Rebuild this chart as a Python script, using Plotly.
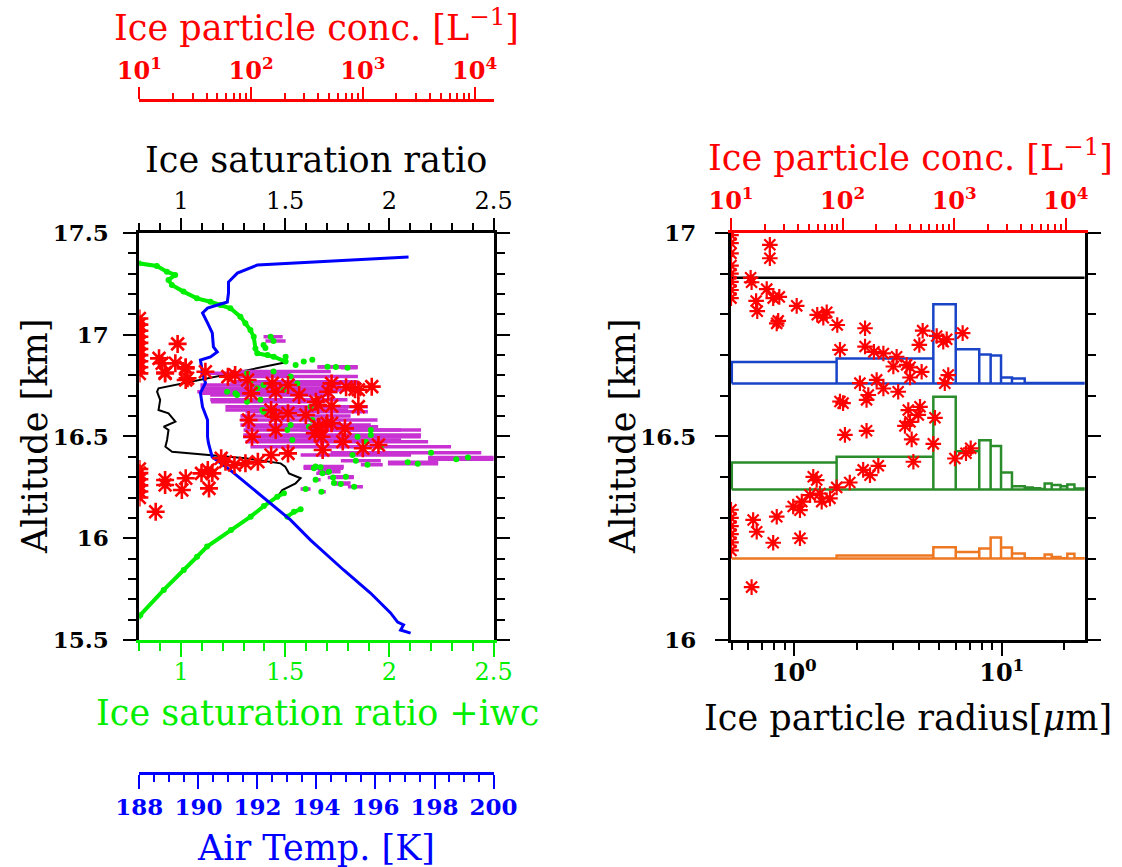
import plotly.graph_objects as go

FONT = "DejaVu Serif"
RED = "#ff0000"
BLUE = "#0000ff"
LIME = "#00ee00"
MAGENTA = "#c832d2"

# ---------------- Left panel data ----------------
# Ice saturation ratio (black line): S, altitude [km]
sat_S = [0.797, 0.884, 0.932, 0.972, 0.940, 0.956, 1.012, 1.076, 1.141, 1.189, 1.237, 1.285, 1.309, 1.333,
         1.349, 1.357, 1.366, 1.445, 1.502, 1.510, 0.892, 0.885, 0.900, 0.892, 0.940, 0.973, 0.917, 0.940,
         0.933, 0.925, 0.957, 1.133, 1.309, 1.478, 1.500, 1.518, 1.574, 1.550, 1.486, 1.470, 1.462, 1.398,
         1.334, 1.240, 1.125, 1.077, 1.013, 0.917, 0.805, 0.797]
sat_alt = [17.351, 17.338, 17.310, 17.294, 17.269, 17.244, 17.212, 17.179, 17.162, 17.146, 17.130, 17.089,
           17.056, 17.023, 16.990, 16.933, 16.909, 16.892, 16.868, 16.866, 16.737, 16.720, 16.680, 16.630,
           16.614, 16.573, 16.548, 16.532, 16.483, 16.450, 16.425, 16.409, 16.393, 16.368, 16.352, 16.319,
           16.295, 16.270, 16.237, 16.213, 16.204, 16.158, 16.106, 16.040, 15.959, 15.909, 15.844, 15.746,
           15.623, 15.615]

# Ice saturation ratio + iwc (green), clear-air segments
tot_S = [0.797, 0.884, 0.932, 0.972, 0.940, 0.956, 1.012, 1.076, 1.141, 1.189, 1.237, 1.285, 1.309, 1.333,
         1.349, 1.357, 1.366, 1.445, 1.502, None,
         1.494, 1.462, 1.398, 1.334, 1.240, 1.125, 1.077, 1.013, 0.917, 0.805, 0.797, None,
         1.510, 1.542, 1.574]
tot_alt = [17.351, 17.338, 17.310, 17.294, 17.269, 17.244, 17.212, 17.179, 17.162, 17.146, 17.130, 17.089,
           17.056, 17.023, 16.990, 16.933, 16.909, 16.892, 16.868, None,
           16.221, 16.204, 16.158, 16.106, 16.040, 15.959, 15.909, 15.844, 15.746, 15.623, 15.615, None,
           16.106, 16.130, 16.142]

# Ice saturation ratio + iwc in cloud with uncertainty (magenta bars)
cld_S = [1.430, 1.444, 1.396, 1.405, 1.415, 1.502, 1.630, 1.589, 1.550, 1.703, 1.743, 1.799, 1.444, 1.317,
         1.526, 1.333, 1.558, 1.396, 1.366, 1.492, 1.221, 1.261, 1.269, 1.381, 1.317, 1.622, 1.390, 1.396,
         1.438, 1.630, 1.526, 1.614, 1.510, 1.911, 1.911, 1.847, 1.534, 1.887, 1.959, 2.200, 1.823, 2.377,
         2.321, 1.839, 2.088, 2.136, 1.895, 1.646, 1.638, 1.670, 1.710, 1.679, 1.791, 1.730, 1.646, 1.734,
         1.767, 1.831, 1.598, 1.674]
cld_alt = [16.990, 16.969, 16.950, 16.935, 16.900, 16.892, 16.877, 16.868, 16.851, 16.843, 16.842, 16.838,
           16.820, 16.811, 16.795, 16.769, 16.761, 16.753, 16.737, 16.728, 16.720, 16.712, 16.704, 16.680,
           16.671, 16.646, 16.630, 16.622, 16.601, 16.581, 16.557, 16.548, 16.532, 16.532, 16.507, 16.499,
           16.483, 16.474, 16.450, 16.420, 16.409, 16.397, 16.388, 16.381, 16.373, 16.366, 16.361, 16.353,
           16.344, 16.349, 16.327, 16.319, 16.302, 16.298, 16.287, 16.272, 16.267, 16.253, 16.242, 16.229]
cld_err_minus = [0.034, 0.039, 0, 0, 0, 0, 0, 0, 0, 0.048, 0.088, 0.032, 0.159, 0.225, 0.289, 0.096, 0.177,
                 0.303, 0.273, 0.255, 0.143, 0.169, 0.129, 0.241, 0.173, 0.409, 0.177, 0.087, 0.153, 0.345,
                 0.241, 0.305, 0.210, 0.337, 0.612, 0.548, 0.201, 0.578, 0.626, 0.482, 0.249, 0.191, 0.135,
                 0.072, 0.095, 0.143, 0.032, 0.058, 0.050, 0.080, 0.054, 0.030, 0.058, 0.026, 0.010, 0.011,
                 0.030, 0.030, 0.024, 0.013]
cld_err_plus = [0.058, 0.058, 0, 0, 0, 0, 0, 0, 0, 0.145, 0.104, 0.048, 0.275, 0.208, 0.323, 0.515, 0.305,
                0.371, 0.353, 0.299, 0.531, 0.410, 0.450, 0.418, 0.377, 0.275, 0.412, 0.501, 0.376, 0.313,
                0.385, 0.332, 0.546, 0.241, 0.241, 0.304, 0.522, 0.299, 0.337, 0.241, 0.281, 0.127, 0.183,
                0.120, 0.146, 0.098, 0.073, 0.135, 0.140, 0.110, 0.056, 0.030, 0.038, 0.100, 0.024, 0.080,
                0.040, 0.042, 0.024, 0.021]

# Air temperature (blue)
temp_K = [197.12, 192.0, 191.32, 191.02, 191.02, 190.98, 190.31, 190.14, 190.31, 190.47, 190.51, 190.64,
          190.41, 190.07, 190.14, 190.24, 190.07, 190.14, 190.31, 190.31, 190.34, 190.47, 191.08, 192.20,
          193.12, 193.80, 194.92, 195.83, 196.51, 196.75, 196.95, 196.85, 197.19]
temp_alt = [17.382, 17.343, 17.303, 17.259, 17.205, 17.161, 17.131, 17.107, 17.058, 17.009, 16.940, 16.915,
            16.891, 16.876, 16.812, 16.763, 16.714, 16.645, 16.581, 16.498, 16.468, 16.399, 16.335, 16.198,
            16.090, 15.991, 15.844, 15.731, 15.633, 15.588, 15.574, 15.549, 15.534]

# Ice particle concentration [L^-1] (red stars), left panel
conc_L = [22, 15, 16, 21, 26, 17, 27, 39, 62, 72, 93, 155, 100, 166, 214, 269, 380, 151, 95, 166, 214, 309,
          166, 102, 398, 54, 59, 71, 41, 45, 36, 89, 115, 151, 214, 26, 17, 17, 24, 42, 14, 525, 490, 708,
          851, 912, 1202, 912, 398, 525, 407, 525, 692, 372, 427, 661, 1000, 1380, 437, 479, 407, 17, 26, 26,
          10, 10, 10, 10, 10, 10, 10, 10, 10, 10, 10, 10, 10, 10, 10, 10]
conc_alt = [16.955, 16.884, 16.860, 16.860, 16.840, 16.814, 16.786, 16.818, 16.794, 16.802, 16.778, 16.761,
            16.712, 16.720, 16.753, 16.704, 16.671, 16.630, 16.581, 16.597, 16.614, 16.606, 16.532, 16.499,
            16.548, 16.393, 16.376, 16.360, 16.335, 16.319, 16.319, 16.368, 16.376, 16.409, 16.417, 16.295,
            16.286, 16.262, 16.237, 16.245, 16.130, 16.761, 16.720, 16.742, 16.732, 16.730, 16.745, 16.647,
            16.655, 16.650, 16.548, 16.565, 16.540, 16.516, 16.499, 16.475, 16.442, 16.458, 16.434, 16.565,
            16.532, 16.810, 16.835, 16.778,
            16.81, 16.84, 16.87, 16.90, 16.93, 16.96, 16.99, 17.02, 17.05, 17.08,
            16.20, 16.23, 16.26, 16.29, 16.32, 16.34]

# ---------------- Right panel data ----------------
conc_R = [22.3, 22.3, 15.0, 15.3, 20.9, 23.9, 27.1, 16.8, 17.2, 26.5, 25.7, 38.8, 59.3, 72.1, 67.2, 89.6,
          159, 94.8, 159, 191, 232, 305, 285, 375, 143, 202, 232, 170, 315, 94.8, 522, 487, 697, 798, 857,
          1191, 885, 402, 511, 402, 388, 494, 477, 402, 362, 673, 416, 650, 431, 1016, 1276, 1406, 101, 164,
          105, 164, 153, 176, 209, 116, 54.6, 58.6, 88.5, 51.1, 62.7, 77.1, 65.0, 43.1, 41.5, 36.1, 25.7,
          15.8, 17.0, 23.9, 41.5, 15.3, 824,
          10, 10, 10, 10, 10, 10, 10, 10, 10, 10, 10, 10, 10, 10]
conc_R_alt = [16.971, 16.938, 16.890, 16.879, 16.862, 16.840, 16.843, 16.833, 16.808, 16.784, 16.778, 16.821,
              16.799, 16.805, 16.792, 16.774, 16.766, 16.713, 16.721, 16.708, 16.704, 16.696, 16.672, 16.676,
              16.631, 16.639, 16.618, 16.602, 16.610, 16.586, 16.760, 16.725, 16.747, 16.733, 16.739, 16.754,
              16.651, 16.670, 16.659, 16.645, 16.565, 16.573, 16.553, 16.536, 16.526, 16.546, 16.493, 16.482,
              16.438, 16.446, 16.459, 16.471, 16.582, 16.590, 16.504, 16.514, 16.418, 16.405, 16.428, 16.387,
              16.401, 16.393, 16.375, 16.356, 16.360, 16.348, 16.340, 16.340, 16.319, 16.328, 16.303, 16.295,
              16.266, 16.239, 16.250, 16.130, 16.631,
              16.84, 16.86, 16.88, 16.90, 16.92, 16.95, 16.975, 16.995, 16.22, 16.24, 16.26, 16.28, 16.30, 16.32]

# Size distributions (radius bin edges in um), plotted as offsets from a base altitude
bin_edges = [0.5, 1.60, 4.68, 6.0, 7.79, 8.84, 9.92, 11.2, 12.9, 14.1, 15.3, 16.1, 17.4, 19.2, 20.7, 22.4, 25.1]
psd_blue_base = 16.630
psd_blue = [0.053, 0.0615, 0.195, 0.0845, 0.0713, 0.069, 0.0147, 0.0123, 0.0015, 0.0015, 0.0015, 0.0015,
            0.0015, 0.0015, 0.0015, 0.0015]
psd_green_base = 16.370
psd_green = [0.0663, 0.0801, 0.2275, 0.094, 0.121, 0.1064, 0.0418, 0.008, 0.005, 0.003, 0.001, 0.0147,
             0.011, 0.008, 0.012, 0.002]
psd_orange_base = 16.200
psd_orange = [0.0005, 0.0074, 0.0278, 0.0164, 0.0246, 0.0516, 0.027, 0.0123, 0.001, 0.001, 0.001, 0.0098,
              0.004, 0.001, 0.012, 0.001]
cloud_top_alt = 16.890

X5_RANGE = [-0.305, 1.40]
CONC_RANGE = [1, 4.17]


def hist_outline(edges, heights, base):
    xs, ys = [], []
    for i, h in enumerate(heights):
        xs += [edges[i], edges[i], edges[i + 1], edges[i + 1]]
        ys += [base, base + h, base + h, base]
    xs += [edges[-1], edges[0]]
    ys += [base, base]
    return xs, ys


fig = go.Figure()

fig.add_trace(go.Scatter(x=sat_S, y=sat_alt, mode="lines", line=dict(color="black", width=2),
                         xaxis="x", yaxis="y", showlegend=False))
fig.add_trace(go.Scatter(x=cld_S, y=cld_alt, mode="markers",
                         marker=dict(color=LIME, size=6),
                         error_x=dict(type="data", symmetric=False, array=cld_err_plus,
                                      arrayminus=cld_err_minus, color=MAGENTA, thickness=3.5, width=0),
                         xaxis="x2", yaxis="y", showlegend=False))
fig.add_trace(go.Scatter(x=tot_S, y=tot_alt, mode="lines+markers",
                         line=dict(color=LIME, width=4), marker=dict(color=LIME, size=6),
                         xaxis="x2", yaxis="y", showlegend=False))
fig.add_trace(go.Scatter(x=temp_K, y=temp_alt, mode="lines", line=dict(color=BLUE, width=3),
                         xaxis="x3", yaxis="y", showlegend=False))
star = dict(symbol="asterisk-open", size=15, line=dict(color=RED, width=2.6), color=RED)
fig.add_trace(go.Scatter(x=conc_L, y=conc_alt, mode="markers", marker=star,
                         xaxis="x4", yaxis="y", showlegend=False))

for vals, base, col in [(psd_blue, psd_blue_base, "#1a44c8"),
                        (psd_green, psd_green_base, "#2a8c2a"),
                        (psd_orange, psd_orange_base, "#ee7722")]:
    hx, hy = hist_outline(bin_edges, vals, base)
    fig.add_trace(go.Scatter(x=hx, y=hy, mode="lines", line=dict(color=col, width=2.5),
                             xaxis="x5", yaxis="y2", showlegend=False))
fig.add_trace(go.Scatter(x=[10 ** X5_RANGE[0], 10 ** X5_RANGE[1]], y=[cloud_top_alt, cloud_top_alt],
                         mode="lines", line=dict(color="black", width=2.5),
                         xaxis="x5", yaxis="y2", showlegend=False))
star_r = dict(symbol="asterisk-open", size=13, line=dict(color=RED, width=2.2), color=RED)
fig.add_trace(go.Scatter(x=conc_R, y=conc_R_alt, mode="markers", marker=star_r,
                         xaxis="x6", yaxis="y2", showlegend=False))

XL = [0.1242, 0.4399]
XR = [0.6515, 0.9668]
YD = [0.26182, 0.73126]

def tf(color="black", bold=True, size=23):
    return dict(family=FONT, size=size, color=color, weight="bold" if bold else "normal")

conc_ticks = [10, 100, 1000, 10000]
conc_text = ["10<sup>1</sup>", "10<sup>2</sup>", "10<sup>3</sup>", "10<sup>4</sup>"]
conc_minor = [m * d for d in (10, 100, 1000) for m in range(2, 10)]

base = dict(showgrid=False, zeroline=False, showline=True, linewidth=3, ticks="outside", tickwidth=2,
            automargin=False)

fig.update_layout(
    width=1122, height=867, margin=dict(l=0, r=0, t=0, b=0, autoexpand=False),
    paper_bgcolor="white", plot_bgcolor="white", showlegend=False,
    xaxis=dict(**base, domain=XL, range=[0.8, 2.5], anchor="y", side="bottom",
               linecolor=LIME, tickcolor=LIME, tickvals=[1, 1.5, 2, 2.5], ticktext=["1", "1.5", "2", "2.5"],
               ticklen=14, tickfont=tf(LIME, False, 24), ticklabelstandoff=-6,
               minor=dict(dtick=0.1, tick0=0, ticks="outside", ticklen=8, tickcolor=LIME, tickwidth=2)),
    xaxis2=dict(**base, overlaying="x", range=[0.8, 2.5], anchor="y", side="top",
                linecolor="black", tickcolor="black", tickvals=[1, 1.5, 2, 2.5], ticktext=["1", "1.5", "2", "2.5"],
                ticklen=12, tickfont=tf("black", False, 24), ticklabelstandoff=-1,
                minor=dict(dtick=0.1, tick0=0, ticks="outside", ticklen=7, tickcolor="black", tickwidth=2)),
    xaxis3=dict(**base, overlaying="x", anchor="free", position=1 - 773 / 867, side="bottom",
                range=[188, 200], tickvals=[188, 190, 192, 194, 196, 198, 200],
                linecolor=BLUE, tickcolor=BLUE, ticklen=14, tickfont=tf(BLUE, True, 23), ticklabelstandoff=-2,
                minor=dict(dtick=0.5, tick0=188, ticks="outside", ticklen=7, tickcolor=BLUE, tickwidth=2)),
    xaxis4=dict(**base, overlaying="x", anchor="free", position=1 - 100 / 867, side="top",
                type="log", range=CONC_RANGE, tickvals=conc_ticks, ticktext=conc_text,
                linecolor=RED, tickcolor=RED, ticklen=12, tickfont=tf(RED, True, 24), ticklabelstandoff=-2,
                minor=dict(tickmode="array", tickvals=conc_minor, ticks="outside", ticklen=6,
                           tickcolor=RED, tickwidth=2)),
    yaxis=dict(**base, domain=YD, range=[15.5, 17.5], anchor="x", mirror="ticks",
               linecolor="black", tickcolor="black", tickvals=[15.5, 16, 16.5, 17, 17.5],
               ticktext=["15.5", "16", "16.5", "17", "17.5"],
               ticklen=13, tickfont=tf("black", True, 23), ticklabelstandoff=10,
               minor=dict(dtick=0.1, tick0=0, ticks="outside", ticklen=8, tickcolor="black", tickwidth=2)),
    xaxis5=dict(**base, domain=XR, anchor="y2", side="bottom", type="log", range=X5_RANGE,
                tickvals=[1, 10], ticktext=["10<sup>0</sup>", "10<sup>1</sup>"],
                linecolor="black", tickcolor="black", ticklen=13, tickfont=tf("black", True, 24),
                ticklabelstandoff=-4,
                minor=dict(tickmode="array", tickvals=[0.5, 0.6, 0.7, 0.8, 0.9, 2, 3, 4, 5, 6, 7, 8, 9, 20],
                           ticks="outside", ticklen=7, tickcolor="black", tickwidth=2)),
    xaxis6=dict(**base, overlaying="x5", anchor="y2", side="top", type="log", range=CONC_RANGE,
                tickvals=conc_ticks, ticktext=conc_text,
                linecolor=RED, tickcolor=RED, ticklen=12, tickfont=tf(RED, True, 24), ticklabelstandoff=-1,
                minor=dict(tickmode="array", tickvals=conc_minor, ticks="outside", ticklen=6,
                           tickcolor=RED, tickwidth=2)),
    yaxis2=dict(**base, domain=YD, range=[16, 17], anchor="x5", mirror="ticks",
                linecolor="black", tickcolor="black", tickvals=[16, 16.5, 17], ticktext=["16", "16.5", "17"],
                ticklen=13, tickfont=tf("black", True, 23), ticklabelstandoff=14,
                minor=dict(dtick=0.1, tick0=0, ticks="outside", ticklen=8, tickcolor="black", tickwidth=2)),
)

TS = 35
def ann(text, px, py, color="black", angle=0):
    fig.add_annotation(text=text, x=px / 1122, y=1 - py / 867, xref="paper", yref="paper",
                       showarrow=False, xanchor="center", yanchor="middle", textangle=angle,
                       font=dict(family=FONT, size=TS, color=color))

ann("Ice particle conc. [L<sup>−1</sup>]", 316, 25, RED)
ann("Ice saturation ratio", 316, 160)
ann("Ice saturation ratio +iwc", 317, 713, LIME)
ann("Air Temp. [K]", 316, 848, BLUE)
ann("Altitude [km]", 35, 437, angle=-90)
ann("Ice particle conc. [L<sup>−1</sup>]", 910, 155, RED)
ann("Altitude [km]", 623, 437, angle=-90)
ann("Ice particle radius[<i>μ</i>m]", 908, 718)

fig.write_html("out.html")
